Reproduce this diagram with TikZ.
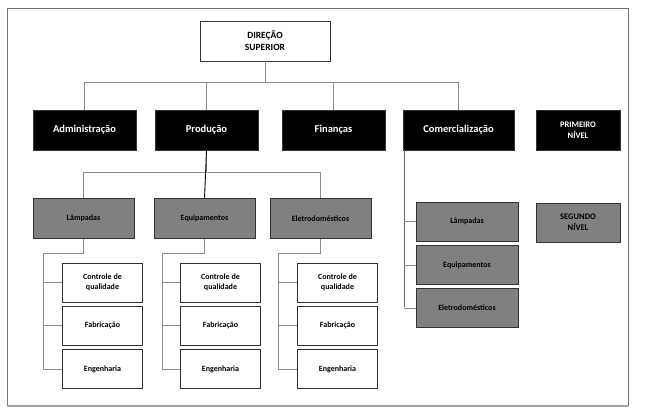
\documentclass[tikz,border=0pt]{standalone}
\usepackage{fontspec}
\setmainfont{Carlito}
\usetikzlibrary{positioning}
\tikzset{
  box/.style={draw=black!80,align=center,font=\bfseries\fontsize{8}{10}\selectfont,inner sep=1pt},
  top/.style={box,fill=black,text=white,font=\bfseries\fontsize{10.5}{13}\selectfont,minimum height=40pt},
  mid/.style={box,fill=black!50,minimum height=40pt},
  low/.style={box,fill=white,minimum width=80pt,minimum height=39pt},
  link/.style={draw=black!45,line width=0.9pt}
}
\begin{document}
\begin{tikzpicture}[x=1pt,y=-1pt]
    \useasboundingbox (0,0) rectangle (671,418);
    \draw[black!55,line width=0.8pt] (7,8) rectangle (628,405);
    \draw[black!35,line width=2pt] (7,406) -- (628,406);

    \node[box,minimum width=130pt,minimum height=40pt,font=\bfseries\fontsize{9.5}{12}\selectfont] at (265,41) (direcao) {DIREÇÃO\\SUPERIOR};

    % primeiro nivel
    \node[top,minimum width=103pt] at (84.5,130) (adm) {Administração};
    \node[top,minimum width=103pt] at (206.5,130) (prod) {Produção};
    \node[top,minimum width=103pt] at (333.5,130) (fin) {Finanças};
    \node[top,minimum width=111pt] at (458.5,130) (com) {Comercialização};
    \node[top,minimum width=84pt,font=\bfseries\fontsize{8.5}{11}\selectfont] at (578,130) (primeiro) {PRIMEIRO\\NÍVEL};

    \foreach \n in {adm,prod,fin,com}
        \draw[link] (direcao.south) -- (direcao.south |- 0,82) -| (\n.north);

    % segundo nivel
    \node[mid,minimum width=101pt] at (83.5,218.5) (lamp) {Lâmpadas};
    \node[mid,minimum width=101pt] at (204.5,218.5) (equip) {Equipamentos};
    \node[mid,minimum width=101pt] at (320.5,218.5) (eletro) {Eletrodomésticos};
    \node[mid,minimum width=84pt,minimum height=39pt,font=\bfseries\fontsize{8.5}{11}\selectfont] at (578,222.5) (segundo) {SEGUNDO\\NÍVEL};

    \foreach \n in {lamp,eletro}
        \draw[link] (prod.south) -- (prod.south |- 0,172) -| (\n.north);
    \draw[black,line width=0.9pt] (prod.south) -- (equip.north);

    \node[mid,minimum width=102pt,minimum height=39pt] at (467,221.5) (com-lamp) {Lâmpadas};
    \node[mid,minimum width=102pt,minimum height=39pt] at (467,265) (com-equip) {Equipamentos};
    \node[mid,minimum width=102pt,minimum height=39pt] at (467,308) (com-eletro) {Eletrodomésticos};
    \coordinate (com-bus) at (404,307);
    \draw[black!60,line width=0.9pt] (com.south -| com-bus) -- (com-bus);
    \foreach \n in {com-lamp,com-equip,com-eletro}
        \draw[link] (\n.west) -- (\n.west -| com-bus);

    % terceiro nivel
    \foreach \p/\x/\l in {lamp/102.5/43,equip/220.5/162,eletro/337.5/278}{
        \node[low] at (\x,282.5) (\p-ctrl) {Controle de\\qualidade};
        \node[low] at (\x,325.5) (\p-fab) {Fabricação};
        \node[low] at (\x,369) (\p-eng) {Engenharia};
        \coordinate (\p-bus) at (\l,370);
        \draw[link] (\p.south) -- (\p.south |- 0,253) -| (\p-bus);
        \foreach \c in {ctrl,fab,eng}
            \draw[link] (\p-\c.west) -- (\p-\c.west -| \p-bus);
    }
\end{tikzpicture}
\end{document}
